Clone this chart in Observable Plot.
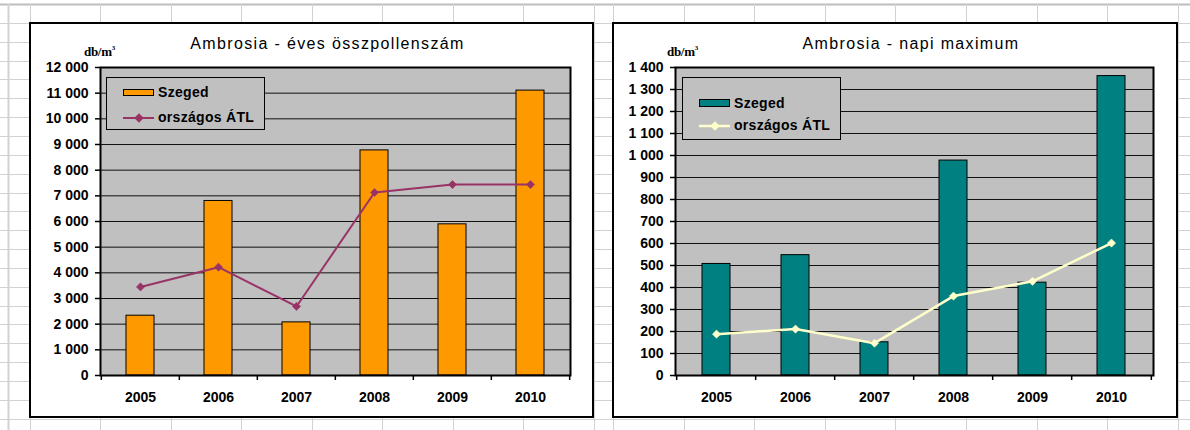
<!DOCTYPE html>
<html>
<head>
<meta charset="utf-8">
<script src="https://cdn.jsdelivr.net/npm/d3@7"></script>
<script src="https://cdn.jsdelivr.net/npm/@observablehq/plot@0.6"></script>
<style>
  html, body { margin: 0; padding: 0; background: #fff; }
  #page { position: relative; width: 1190px; height: 430px; overflow: hidden; background: #fff;
          font-family: "Liberation Sans", Arial, sans-serif; color: #000; }
  .panel { position: absolute; box-sizing: border-box; border: 2px solid #000; background: #fff; }
  .title { position: absolute; font-size: 16px; line-height: 16px; letter-spacing: 1.35px; white-space: nowrap; transform: translateX(-50%); }
  .unit { position: absolute; font-family: "Liberation Serif", "Times New Roman", serif; font-weight: bold; font-size: 13px; line-height: 13px; letter-spacing: -0.3px; white-space: nowrap; }
  .unit sup { font-size: 7px; vertical-align: 6px; line-height: 0; }
  .legend { position: absolute; box-sizing: border-box; border: 1px solid #000; background: #C0C0C0; }
  .legtext { position: absolute; font-size: 14px; line-height: 14px; font-weight: bold; letter-spacing: 0.3px; white-space: nowrap; }
  .swatch { position: absolute; box-sizing: border-box; border: 1px solid #000; }
</style>
</head>
<body>
<div id="page"></div>
<script>
// ---------------- data ----------------
const years = ["2005", "2006", "2007", "2008", "2009", "2010"];

// left chart: annual total pollen count
const szegedTotal = [2330, 6800, 2070, 8770, 5890, 11100];
const nationalTotal = [3450, 4220, 2690, 7130, 7440, 7440];
const yTicksTotal = [0, 1000, 2000, 3000, 4000, 5000, 6000, 7000, 8000, 9000, 10000, 11000, 12000];

// right chart: daily maximum
const szegedMax = [507, 547, 151, 977, 422, 1361];
const nationalMax = [188, 211, 147, 361, 428, 602];
const yTicksMax = [0, 100, 200, 300, 400, 500, 600, 700, 800, 900, 1000, 1100, 1200, 1300, 1400];

const seriesNames = ["Szeged", "országos ÁTL"];
const titles = ["Ambrosia - éves összpollenszám", "Ambrosia - napi maximum"];
const unitLabel = "db/m";

// ---------------- background spreadsheet grid (decoration) ----------------
const page = document.getElementById("page");
const bgCols = [8, 29.5, 100, 170.5, 241, 311.5, 382, 452.5, 523, 594, 613, 683.6, 754.2, 824.8, 895.4, 966, 1036.6, 1107.2, 1177.8];
const bg = d3.select(page).append("svg")
  .attr("width", 1190).attr("height", 430)
  .style("position", "absolute").style("left", 0).style("top", 0);
for (let k = 0; k <= 22; k++) {
  const y = Math.round(4 + 18.85 * k) + 0.5;
  bg.append("line").attr("x1", 0).attr("x2", 1190).attr("y1", y).attr("y2", y)
    .attr("stroke", k === 0 ? "#bdbdbd" : "#d2d2d2").attr("stroke-width", k === 0 ? 2 : 1);
}
for (const x of bgCols) {
  bg.append("line").attr("x1", Math.round(x) + 0.5).attr("x2", Math.round(x) + 0.5).attr("y1", 4).attr("y2", 430)
    .attr("stroke", "#d2d2d2").attr("stroke-width", x === 8 ? 2 : 1);
}

const fmt = d => d3.format(",")(d).replace(/,/g, " ");

function addPanel(cfg) {
  const panel = document.createElement("div");
  panel.className = "panel";
  Object.assign(panel.style, {left: cfg.left + "px", top: cfg.top + "px", width: cfg.width + "px", height: cfg.height + "px"});
  page.appendChild(panel);

  const table = years.map((year, i) => ({year, szeged: cfg.bars[i], avg: cfg.line[i]}));
  const step = (cfg.width - cfg.ml - cfg.mr) / years.length;

  const chart = Plot.plot({
    width: cfg.width,
    height: cfg.height,
    marginLeft: cfg.ml, marginRight: cfg.mr, marginTop: cfg.mt, marginBottom: cfg.mb,
    style: {fontFamily: "'Liberation Sans', Arial, sans-serif", fontSize: "14px", fontWeight: "bold", background: "transparent", overflow: "visible", color: "#000"},
    x: {type: "band", domain: years, paddingInner: 0.64, paddingOuter: 0.32, label: null},
    y: {domain: [0, cfg.yTicks[cfg.yTicks.length - 1]], label: null},
    marks: [
      Plot.frame({fill: "#C0C0C0", stroke: null}),
      Plot.ruleY(cfg.yTicks, {stroke: "#111", strokeWidth: 1}),
      Plot.barY(table, {x: "year", y: "szeged", fill: cfg.barColor, stroke: "#000", strokeWidth: 1}),
      Plot.frame({stroke: "#000", strokeWidth: 2}),
      Plot.lineY(table, {x: "year", y: "avg", stroke: cfg.lineColor, strokeWidth: cfg.lineWidth}),
      Plot.dot(table, {x: "year", y: "avg", symbol: "diamond2", r: 3.7, fill: cfg.lineColor, stroke: cfg.lineColor, strokeWidth: 0.5}),
      Plot.axisY({ticks: cfg.yTicks, tickFormat: fmt, tickSize: 5, tickPadding: 7, stroke: "#000", strokeWidth: 1.5}),
      Plot.axisX({tickSize: 0, tickPadding: 17}),
      Plot.ruleX(years, {x: d => d, y1: 0, y2: 0, insetBottom: -5, dx: -step / 2, stroke: "#000", strokeWidth: 1.5}),
      Plot.ruleX(years.slice(-1), {x: d => d, y1: 0, y2: 0, insetBottom: -5, dx: step / 2, stroke: "#000", strokeWidth: 1.5})
    ]
  });
  chart.style.position = "absolute";
  chart.style.left = cfg.left + "px";
  chart.style.top = cfg.top + "px";
  page.appendChild(chart);

  // title
  const t = document.createElement("div");
  t.className = "title";
  t.textContent = cfg.title;
  Object.assign(t.style, {left: cfg.titleX + "px", top: (cfg.titleBaseline - 13.5) + "px"});
  page.appendChild(t);

  // unit label
  const u = document.createElement("div");
  u.className = "unit";
  u.innerHTML = unitLabel + "<sup>3</sup>";
  Object.assign(u.style, {left: cfg.unitX + "px", top: (cfg.unitBaseline - 11.2) + "px"});
  page.appendChild(u);

  // legend
  const L = cfg.legend;
  const lg = document.createElement("div");
  lg.className = "legend";
  Object.assign(lg.style, {left: L.x + "px", top: L.y + "px", width: L.w + "px", height: L.h + "px"});
  page.appendChild(lg);
  const sw = document.createElement("div");
  sw.className = "swatch";
  Object.assign(sw.style, {left: "16px", top: L.swTop + "px", width: "31px", height: L.swH + "px", background: cfg.barColor});
  lg.appendChild(sw);
  const t1 = document.createElement("div");
  t1.className = "legtext"; t1.textContent = seriesNames[0];
  Object.assign(t1.style, {left: L.textX + "px", top: (L.base1 - 11.85) + "px"});
  lg.appendChild(t1);
  const ls = d3.select(lg).append("svg").attr("width", 40).attr("height", 14)
    .style("position", "absolute").style("left", "12px").style("top", (L.lineY - 7) + "px");
  ls.append("line").attr("x1", 4).attr("x2", 35).attr("y1", 7).attr("y2", 7)
    .attr("stroke", cfg.lineColor).attr("stroke-width", cfg.lineWidth);
  ls.append("path").attr("d", "M20,2.2L24.8,7L20,11.8L15.2,7Z").attr("fill", cfg.lineColor);
  const t2 = document.createElement("div");
  t2.className = "legtext"; t2.textContent = seriesNames[1];
  Object.assign(t2.style, {left: L.textX + "px", top: (L.base2 - 11.85) + "px"});
  lg.appendChild(t2);
}

addPanel({
  left: 29, top: 22, width: 565, height: 396,
  ml: 71, mr: 24, mt: 45, mb: 43,
  bars: szegedTotal, line: nationalTotal, yTicks: yTicksTotal,
  barColor: "#FF9900", lineColor: "#993366", lineWidth: 2,
  title: titles[0], titleX: 327.5, titleBaseline: 49.7,
  unitX: 84, unitBaseline: 56,
  legend: {x: 106, y: 77, w: 159, h: 53, swTop: 10.5, swH: 7.5, textX: 51, base1: 18.5, lineY: 40, base2: 43.5}
});

addPanel({
  left: 612, top: 22, width: 566, height: 396,
  ml: 63, mr: 25, mt: 45, mb: 43,
  bars: szegedMax, line: nationalMax, yTicks: yTicksMax,
  barColor: "#008080", lineColor: "#FFFFCC", lineWidth: 2.5,
  title: titles[1], titleX: 911, titleBaseline: 49.7,
  unitX: 667, unitBaseline: 56,
  legend: {x: 682, y: 77, w: 159, h: 63, swTop: 20.5, swH: 8, textX: 51, base1: 29.5, lineY: 47.5, base2: 51.5}
});
</script>
</body>
</html>
